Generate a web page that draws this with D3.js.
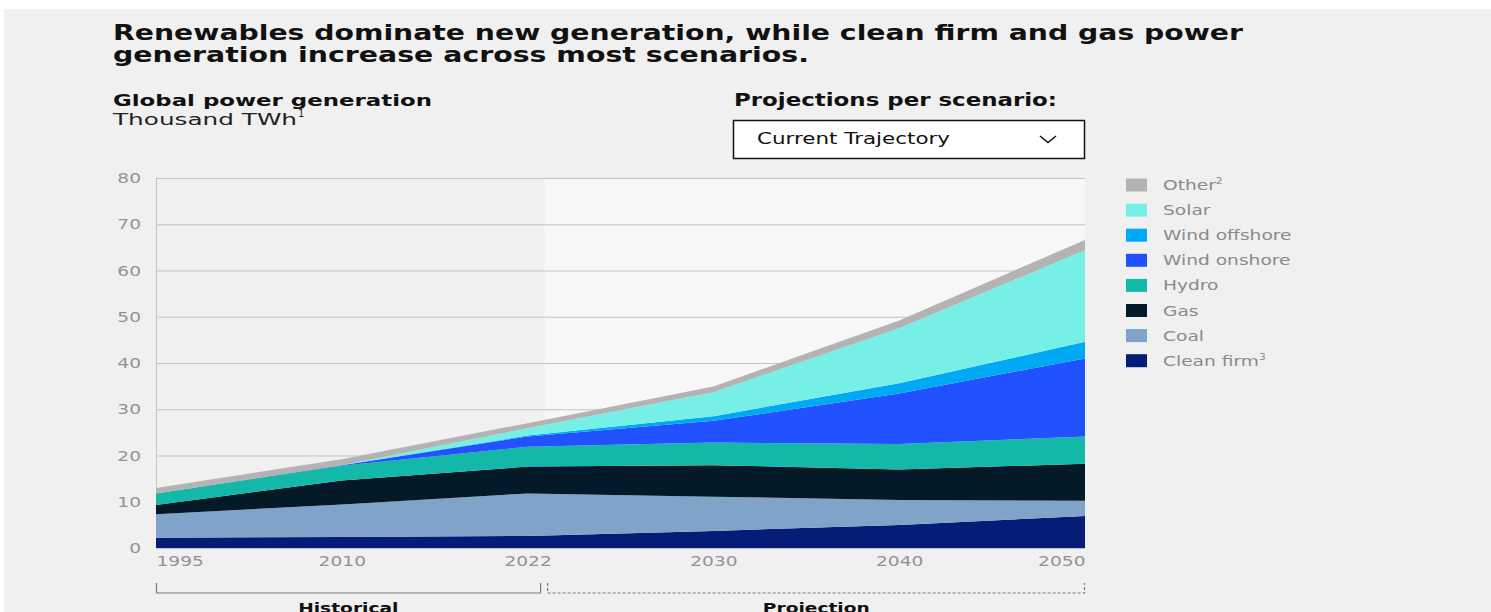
<!DOCTYPE html>
<html>
<head>
<meta charset="utf-8">
<script src="https://cdn.jsdelivr.net/npm/d3@7"></script>
<style>
  html, body { margin: 0; padding: 0; background: #ffffff; }
  svg { display: block; }
  text { font-family: "DejaVu Sans", sans-serif; }
</style>
</head>
<body>
<svg id="chart" width="1491" height="612"></svg>
<script>
// Global power generation by source, thousand TWh
const years = ["1995", "2010", "2022", "2030", "2040", "2050"];
const cleanFirm    = [2.2, 2.4, 2.6, 3.7, 5.0, 6.9];
const coal         = [5.1, 7.0, 9.2, 7.4, 5.4, 3.3];
const gas          = [2.0, 5.2, 5.8, 6.8, 6.6, 8.0];
const hydro        = [2.5, 3.2, 4.3, 4.9, 5.5, 5.9];
const windOnshore  = [0.0, 0.1, 2.2, 4.7, 10.9, 16.9];
const windOffshore = [0.0, 0.0, 0.2, 1.0, 2.2, 3.6];
const solar        = [0.0, 0.0, 1.6, 5.2, 11.9, 19.8];
const other        = [1.2, 1.3, 1.1, 1.2, 1.7, 2.2];

const seriesNames = ["Clean firm", "Coal", "Gas", "Hydro", "Wind onshore", "Wind offshore", "Solar", "Other"];
const seriesSup   = ["3", "", "", "", "", "", "", "2"];
const seriesColors = ["#061d78", "#80a4c9", "#051a28", "#14b8a8", "#2251ff", "#00a9f4", "#76f0e6", "#b3b3b3"];
const yTicks = [0, 10, 20, 30, 40, 50, 60, 70, 80];

const titleLines = [
  "Renewables dominate new generation, while clean firm and gas power",
  "generation increase across most scenarios."
];

const svg = d3.select("#chart");
const W = 1491, H = 612;
const STRETCH = 1.33;   // widen DejaVu glyphs to an extended-style face

// page panel
svg.append("rect").attr("x", 4).attr("y", 9).attr("width", W - 4).attr("height", H - 9).attr("fill", "#f0f0f0");

// title
titleLines.forEach((t, i) => {
  svg.append("text")
    .attr("x", 113).attr("y", 40 + i * 22)
    .attr("textLength", i === 0 ? 1130 : 696)
    .attr("lengthAdjust", "spacingAndGlyphs")
    .attr("font-size", 21).attr("font-weight", "bold").attr("fill", "#111")
    .text(t);
});

// subtitle block
svg.append("text").attr("x", 113).attr("y", 106)
  .attr("textLength", 319).attr("lengthAdjust", "spacingAndGlyphs")
  .attr("font-size", 16.5).attr("font-weight", "bold").attr("fill", "#111")
  .text("Global power generation");
svg.append("text").attr("x", 113).attr("y", 125)
  .attr("textLength", 184).attr("lengthAdjust", "spacingAndGlyphs")
  .attr("font-size", 16.5).attr("fill", "#222")
  .text("Thousand TWh");
svg.append("text").attr("x", 298).attr("y", 117)
  .attr("font-size", 10).attr("fill", "#222").text("1");

// scenario selector
svg.append("text").attr("x", 734).attr("y", 106)
  .attr("textLength", 323).attr("lengthAdjust", "spacingAndGlyphs")
  .attr("font-size", 17).attr("font-weight", "bold").attr("fill", "#111")
  .text("Projections per scenario:");
svg.append("rect").attr("x", 733.5).attr("y", 120.5).attr("width", 351).attr("height", 38)
  .attr("fill", "#fff").attr("stroke", "#111").attr("stroke-width", 1.5);
svg.append("text").attr("x", 757).attr("y", 144)
  .attr("textLength", 193).attr("lengthAdjust", "spacingAndGlyphs")
  .attr("font-size", 15).attr("fill", "#111")
  .text("Current Trajectory");
svg.append("path").attr("d", "M1040,136 L1048,142.5 L1056,136")
  .attr("fill", "none").attr("stroke", "#111").attr("stroke-width", 1.5);

// scales
const x = d3.scalePoint().domain(years).range([156, 1085]);
const y = d3.scaleLinear().domain([0, 80]).range([548, 178]);

// projection background
const projStart = x("2022") + 17;
svg.append("rect").attr("x", projStart).attr("y", y(80))
  .attr("width", x("2050") - projStart).attr("height", y(0) - y(80))
  .attr("fill", "#f7f7f7");

// gridlines
svg.append("g").selectAll("line").data(yTicks).join("line")
  .attr("x1", x("1995")).attr("x2", x("2050"))
  .attr("y1", d => y(d) + 0.5).attr("y2", d => y(d) + 0.5)
  .attr("stroke", "#c4c4c4").attr("stroke-width", 1);
svg.append("line")
  .attr("x1", x("1995") + 0.5).attr("x2", x("1995") + 0.5)
  .attr("y1", y(80)).attr("y2", y(0))
  .attr("stroke", "#c4c4c4");

// stacked areas
const table = years.map((yr, i) => ({
  year: yr,
  "Clean firm": cleanFirm[i], "Coal": coal[i], "Gas": gas[i], "Hydro": hydro[i],
  "Wind onshore": windOnshore[i], "Wind offshore": windOffshore[i],
  "Solar": solar[i], "Other": other[i]
}));
const stacked = d3.stack().keys(seriesNames)(table);
const area = d3.area()
  .x(d => x(d.data.year))
  .y0(d => y(d[0]))
  .y1(d => y(d[1]));
svg.append("g").selectAll("path").data(stacked).join("path")
  .attr("d", area)
  .attr("fill", (d, i) => seriesColors[i]);

// y axis labels
const yAxis = svg.append("g").attr("transform", "translate(141,0)")
  .call(d3.axisLeft(y).tickValues(yTicks).tickSize(0).tickPadding(0));
yAxis.select(".domain").remove();
yAxis.selectAll("text")
  .attr("font-family", "DejaVu Sans").attr("font-size", 13.5).attr("fill", "#939393")
  .attr("dy", "0.35em")
  .attr("transform", `scale(${STRETCH + 0.05},1)`);

// x axis labels
const xAxis = svg.append("g").attr("transform", `translate(0,${y(0)})`)
  .call(d3.axisBottom(x).tickSize(0).tickPadding(8));
xAxis.select(".domain").remove();
xAxis.selectAll("text")
  .attr("font-family", "DejaVu Sans").attr("font-size", 14).attr("fill", "#939393")
  .attr("text-anchor", (d, i) => i === 0 ? "start" : (i === years.length - 1 ? "end" : "middle"))
  .attr("transform", `scale(${STRETCH},1)`);

// period brackets
const brY0 = 583, brY1 = 593;
const histEnd = x("2022") + 13, projBegin = x("2022") + 20;
svg.append("path")
  .attr("d", `M${x("1995") + 0.5},${brY0} V${brY1} H${histEnd} V${brY0}`)
  .attr("fill", "none").attr("stroke", "#7a7a7a").attr("stroke-width", 1.2);
svg.append("path")
  .attr("d", `M${projBegin},${brY0} V${brY1} H${x("2050") - 0.5} V${brY0}`)
  .attr("fill", "none").attr("stroke", "#7a7a7a").attr("stroke-width", 1.2)
  .attr("stroke-dasharray", "3,2");
[["Historical", (x("1995") + histEnd) / 2], ["Projection", (projBegin + x("2050")) / 2]].forEach(([t, cx]) => {
  svg.append("g").attr("transform", `translate(${cx},613) scale(${STRETCH},1)`)
    .append("text").attr("text-anchor", "middle")
    .attr("font-size", 14).attr("font-weight", "bold").attr("fill", "#111")
    .text(t);
});

// legend (top entry first)
const legendOrder = d3.range(seriesNames.length).reverse();
const legend = svg.append("g").selectAll("g").data(legendOrder).join("g")
  .attr("transform", (d, i) => `translate(1126,${185 + i * 25.1})`);
legend.append("rect").attr("x", 0).attr("y", -6.5).attr("width", 21).attr("height", 13)
  .attr("fill", d => seriesColors[d]);
const lt = legend.append("g").attr("transform", `translate(37,5) scale(${STRETCH},1)`)
  .append("text").attr("font-size", 14).attr("fill", "#8a8a8a");
lt.append("tspan").text(d => seriesNames[d]);
lt.append("tspan").attr("font-size", 8).attr("dy", -6).text(d => seriesSup[d]);
</script>
</body>
</html>
